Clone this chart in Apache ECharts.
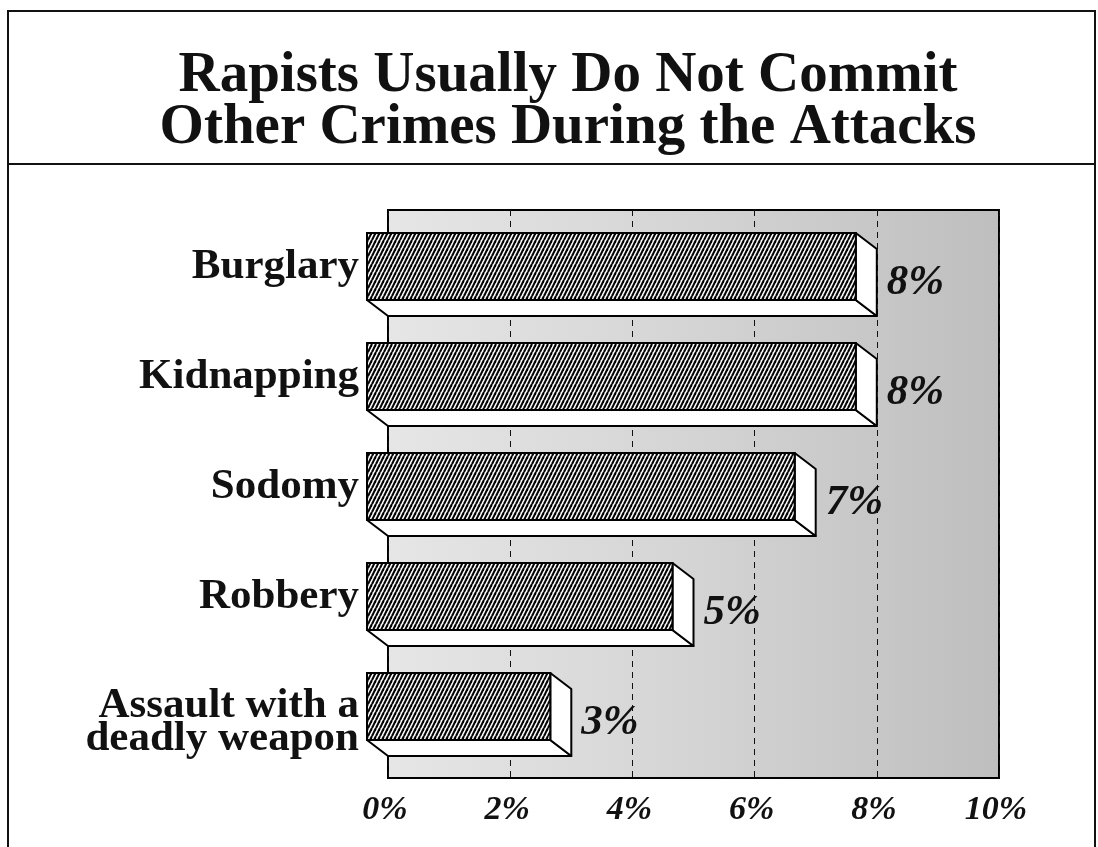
<!DOCTYPE html>
<html>
<head>
<meta charset="utf-8">
<script src="https://cdn.jsdelivr.net/npm/echarts@6/dist/echarts.min.js"></script>
<style>html,body{margin:0;padding:0;background:#fff}#c{width:1098px;height:847px}</style>
</head>
<body>
<div id="c"></div>
<script>
const titleText = 'Rapists Usually Do Not Commit\nOther Crimes During the Attacks';
const categories = ['Burglary', 'Kidnapping', 'Sodomy', 'Robbery', 'Assault with a\ndeadly weapon'];
const values = [8, 8, 7, 5, 3];
const xMin = 0, xMax = 10, xStep = 2;

const SERIF = "'Liberation Serif', 'DejaVu Serif', serif";
const DX = 21, DY = 16;

// hatch pattern
const hatch = document.createElement('canvas');
hatch.width = 4; hatch.height = 8;
(function () {
  const g = hatch.getContext('2d');
  g.fillStyle = '#fff'; g.fillRect(0, 0, 4, 8);
  g.strokeStyle = '#000'; g.lineWidth = 2.1;
  for (let x = -4; x <= 4; x += 4) {
    g.beginPath(); g.moveTo(x, 8); g.lineTo(x + 4, 0); g.stroke();
  }
})();

const chart = echarts.init(document.getElementById('c'), null, { renderer: 'canvas' });

function renderItem(params, api) {
  const v = api.value(0), idx = api.value(1);
  const p0 = api.coord([0, idx]);
  const p1 = api.coord([v, idx]);
  const h = api.size([0, 1])[1] * 0.61;
  const x0 = p0[0], x1 = p1[0], yt = p0[1] - h / 2, yb = p0[1] + h / 2;
  const st = { fill: '#fff', stroke: '#000', lineWidth: 2, lineJoin: 'round' };
  return {
    type: 'group',
    children: [
      { type: 'polygon', shape: { points: [[x0, yb], [x1, yb], [x1 + DX, yb + DY], [x0 + DX, yb + DY]] }, style: st },
      { type: 'polygon', shape: { points: [[x1, yt], [x1 + DX, yt + DY], [x1 + DX, yb + DY], [x1, yb]] }, style: st },
      { type: 'rect', shape: { x: x0, y: yt, width: x1 - x0, height: yb - yt },
        style: { fill: { image: hatch, repeat: 'repeat' }, stroke: '#000', lineWidth: 2 } },
      { type: 'text', x: x1 + DX + 10, y: p0[1] + DY,
        style: { text: v + '%', fill: '#111', font: 'italic bold 43px ' + SERIF, textAlign: 'left', textVerticalAlign: 'middle' } }
    ]
  };
}

const option = {
  backgroundColor: '#fff',
  animation: false,
  title: {
    text: titleText,
    left: 568,
    textAlign: 'center',
    top: 50,
    padding: 0,
    textStyle: { fontSize: 57, fontWeight: 'bold', lineHeight: 52, color: '#111', fontFamily: SERIF }
  },
  graphic: [
    { type: 'polyline', shape: { points: [[8, 847], [8, 11], [1095, 11], [1095, 847]] }, style: { stroke: '#111', lineWidth: 2, fill: null } },
    { type: 'line', shape: { x1: 8, y1: 164, x2: 1095, y2: 164 }, style: { stroke: '#111', lineWidth: 2 } }
  ],
  grid: [
    { left: 388, right: 99, top: 210, bottom: 69, show: true, borderColor: '#000', borderWidth: 2,
      backgroundColor: { type: 'linear', x: 0, y: 0, x2: 1, y2: 0,
        colorStops: [{ offset: 0, color: '#e6e6e6' }, { offset: 0.5, color: '#d4d4d4' }, { offset: 1, color: '#bebebe' }] } },
    { left: 367, right: 120, top: 211.5, bottom: 85.5 }
  ],
  xAxis: [
    { gridIndex: 0, type: 'value', min: xMin, max: xMax, interval: xStep,
      axisLine: { show: false }, axisTick: { show: false },
      splitLine: { show: true, lineStyle: { color: '#111', type: [6, 5], width: 1 } },
      axisLabel: { formatter: '{value}%', fontSize: 34, fontStyle: 'italic', fontWeight: 'bold', color: '#111', fontFamily: SERIF, margin: 15, padding: [0, 6, 0, 0] } },
    { gridIndex: 1, type: 'value', min: xMin, max: xMax, show: false }
  ],
  yAxis: [
    { gridIndex: 0, type: 'value', show: false },
    { gridIndex: 1, type: 'category', inverse: true, data: categories,
      axisLine: { show: false }, axisTick: { show: false }, splitLine: { show: false },
      axisLabel: {
        margin: 8, color: '#111',
        formatter: function (v) {
          const parts = v.split('\n');
          if (parts.length > 1) return '{e| }\n' + parts.map(p => '{s|' + p + '}').join('\n');
          return '{s|' + v + '}';
        },
        rich: {
          s: { fontSize: 43, fontWeight: 'bold', fontFamily: SERIF, lineHeight: 33, color: '#111', align: 'right' },
          e: { fontSize: 1, lineHeight: 32 }
        }
      } }
  ],
  series: [
    { type: 'custom', xAxisIndex: 1, yAxisIndex: 1, clip: false, renderItem: renderItem,
      data: values.map((v, i) => [v, i]) }
  ]
};
chart.setOption(option);
</script>
</body>
</html>
